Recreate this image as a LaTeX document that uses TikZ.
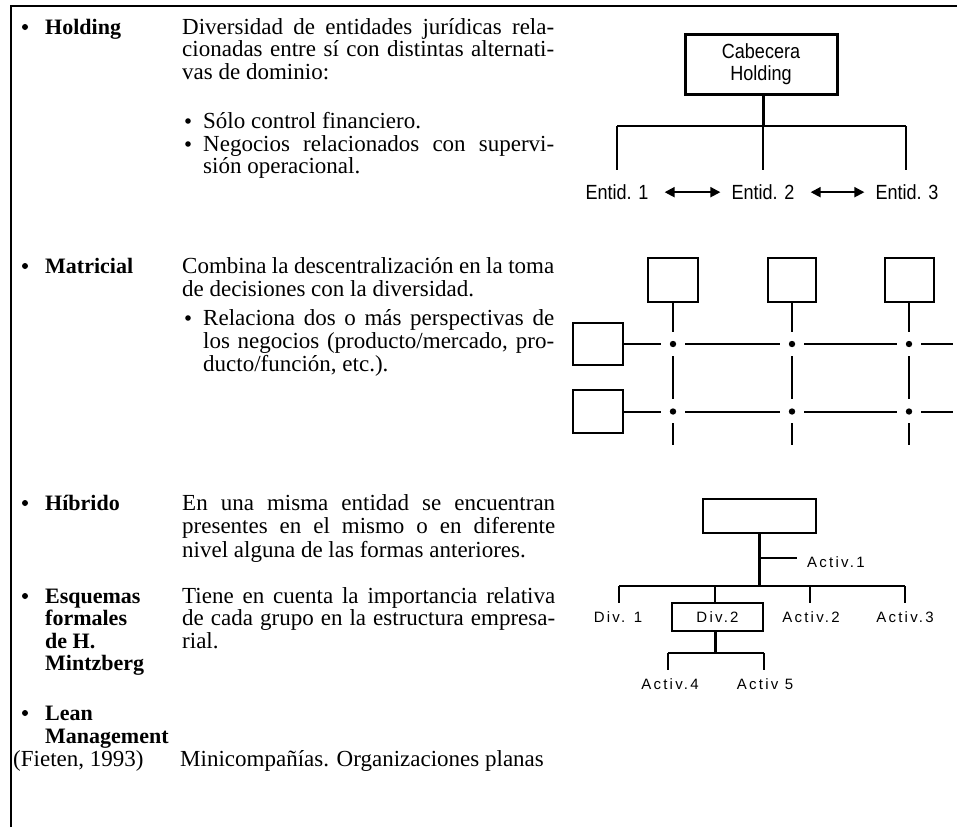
\documentclass[tikz,border=0pt]{standalone}
\usepackage{fontspec}
\setmainfont{Liberation Serif}
\setsansfont{Liberation Sans}
\newfontfamily\spacedsans[LetterSpace=15]{Liberation Sans}
\newfontfamily\condsans[FakeStretch=0.88]{Liberation Sans}
\usetikzlibrary{arrows.meta}
\begin{document}
\begin{tikzpicture}[x=1pt,y=-1pt,
  body/.style={anchor=base west, inner sep=0pt, font=\fontsize{23}{27}\selectfont},
  lab/.style={anchor=base west, inner sep=0pt, font=\fontsize{22}{26}\selectfont\bfseries},
  sanslab/.style={font=\fontsize{20.5}{22}\selectfont\condsans, inner sep=1pt},
  smalllab/.style={font=\fontsize{15}{17}\selectfont\spacedsans, inner sep=1pt},
  bul/.style={fill=black},
  frame/.style={line width=1.6pt},
  thickbox/.style={draw, line width=3pt, inner sep=0pt},
  mbox/.style={draw, line width=2pt, inner sep=0pt},
  ln/.style={line width=2pt},
  tln/.style={line width=3pt},
  harrow/.style={line width=2pt, {Triangle[length=10pt,width=10pt]}-{Triangle[length=10pt,width=10pt]}},
]
\useasboundingbox (0,0) rectangle (957,827);
% frame
\coordinate (fbl) at (11,827);
\coordinate (ftl) at (11,6);
\coordinate (ftr) at (957,6);
\draw[frame] (fbl) -- (ftl) -- (ftr);

% ---------- Holding
\fill[bul] (25,27) circle (3pt);
\node[lab] (tHolding) at (45,34) {Holding};
\node[body] (h1) at (182,34) {\makebox[372pt][s]{Diversidad de entidades jurídicas rela-}};
\node[body] (h2) at (182,56.5) {\makebox[372pt][s]{cionadas entre sí con distintas alternati-}};
\node[body] (h3) at (182,79) {vas de dominio:};
\fill[bul] (188,121) circle (2.8pt);
\node[body] (h4) at (203,128) {Sólo control financiero.};
\fill[bul] (188,144) circle (2.8pt);
\node[body] (h5) at (203,151) {\makebox[351pt][s]{Negocios relacionados con supervi-}};
\node[body] (h6) at (203,173.5) {sión operacional.};

% ---------- Matricial
\fill[bul] (25,266) circle (3pt);
\node[lab] (tMatricial) at (45,273) {Matricial};
\node[body] (m1t) at (182,273) {\makebox[372pt][s]{Combina la descentralización en la toma}};
\node[body] (m2t) at (182,296) {de decisiones con la diversidad.};
\fill[bul] (188,318) circle (2.8pt);
\node[body] (m3t) at (203,325) {\makebox[351pt][s]{Relaciona dos o más perspectivas de}};
\node[body] (m4t) at (203,348.5) {\makebox[351pt][s]{los negocios (producto/mercado, pro-}};
\node[body] (m5t) at (203,371) {ducto/función, etc.).};

% ---------- Hibrido
\fill[bul] (25,503) circle (3pt);
\node[lab] (tHibrido) at (45,510) {Híbrido};
\node[body] (b1t) at (182,510) {\makebox[373pt][s]{En una misma entidad se encuentran}};
\node[body] (b2t) at (182,533.5) {\makebox[373pt][s]{presentes en el mismo o en diferente}};
\node[body] (b3t) at (182,557) {nivel alguna de las formas anteriores.};

% ---------- Esquemas
\fill[bul] (25,596) circle (3pt);
\node[lab] (tEsq1) at (45,603) {Esquemas};
\node[lab] (tEsq2) at (45,625.5) {formales};
\node[lab] (tEsq3) at (45,648) {de H.};
\node[lab] (tEsq4) at (45,670.5) {Mintzberg};
\node[body] (e1t) at (182,603) {\makebox[373pt][s]{Tiene en cuenta la importancia relativa}};
\node[body] (e2t) at (182,625.5) {\makebox[373pt][s]{de cada grupo en la estructura empresa-}};
\node[body] (e3t) at (182,648) {rial.};

% ---------- Lean
\fill[bul] (25,713) circle (3pt);
\node[lab] (tLean1) at (45,720) {Lean};
\node[lab] (tLean2) at (45,743) {Management};
\node[body] (lf) at (13,766) {(Fieten, 1993)};
\node[body] (lt) at (180,766) {Minicompañías. Organizaciones planas};

% ================= Holding diagram
\node[thickbox, minimum width=152pt, minimum height=60pt] (cab) at (761,64) {};
\node[sanslab, align=center] (cabt) at (cab.center) {Cabecera\\Holding};
\coordinate (hj) at (763,126);
\coordinate (hl) at (617,126);
\coordinate (hr) at (906,126);
\coordinate (hl2) at (617,170);
\coordinate (hm2) at (763,170);
\coordinate (hr2) at (906,170);
\draw[tln] (cab.south -| hj) -- (hj);
\draw[line width=2.5pt] (hl) -- (hr);
\draw[ln] (hl) -- (hl2);
\draw[ln] (hj) -- (hm2);
\draw[ln] (hr) -- (hr2);
\node[sanslab, anchor=base] (ent1) at (617,199) {Entid. 1};
\node[sanslab, anchor=base] (ent2) at (763,199) {Entid. 2};
\node[sanslab, anchor=base] (ent3) at (907,199) {Entid. 3};
\draw[harrow] ([xshift=15pt,yshift=-0.5pt]ent1.east) -- ([xshift=-10pt,yshift=-0.5pt]ent2.west);
\draw[harrow] ([xshift=15pt,yshift=-0.5pt]ent2.east) -- ([xshift=-10pt,yshift=-0.5pt]ent3.west);

% ================= Matricial diagram
\node[mbox, minimum width=50pt, minimum height=44pt] (mb1) at (673,280) {};
\node[mbox, minimum width=48pt, minimum height=44pt] (mb2) at (792,280) {};
\node[mbox, minimum width=49pt, minimum height=44pt] (mb3) at (909,280) {};
\node[mbox, minimum width=50pt, minimum height=42pt] (rb1) at (598,344) {};
\node[mbox, minimum width=50pt, minimum height=43pt] (rb2) at (598,411.5) {};
\foreach \c/\x in {1/673,2/792,3/909}{
  \coordinate (v\c a) at (\x,332);
  \coordinate (v\c b) at (\x,356);
  \coordinate (v\c c) at (\x,399);
  \coordinate (v\c d) at (\x,423);
  \coordinate (v\c e) at (\x,445);
  \draw[ln] (mb\c.south) -- (v\c a);
  \draw[ln] (v\c b) -- (v\c c);
  \draw[ln] (v\c d) -- (v\c e);
  \fill (\x,344) circle (3.2pt);
  \fill (\x,411.5) circle (3.2pt);
}
\foreach \r/\y in {1/344,2/411.5}{
  \coordinate (h\r a) at (661,\y);
  \coordinate (h\r b) at (685,\y);
  \coordinate (h\r c) at (780,\y);
  \coordinate (h\r d) at (804,\y);
  \coordinate (h\r e) at (897,\y);
  \coordinate (h\r f) at (921,\y);
  \coordinate (h\r g) at (953,\y);
  \draw[ln] (rb\r.east) -- (h\r a);
  \draw[ln] (h\r b) -- (h\r c);
  \draw[ln] (h\r d) -- (h\r e);
  \draw[ln] (h\r f) -- (h\r g);
}

% ================= Hybrid diagram
\node[mbox, minimum width=113pt, minimum height=34pt] (top) at (759.5,516) {};
\coordinate (tj) at (759.5,586);
\coordinate (ta) at (759.5,558);
\coordinate (ta2) at (797,558);
\draw[tln] (top.south) -- (tj);
\draw[ln] (ta) -- (ta2);
\node[smalllab, anchor=base west] (act1) at (806,567) {Activ.1};
\coordinate (bl) at (619,586);
\coordinate (br) at (905,586);
\draw[line width=2.5pt] (bl) -- (br);
\node[mbox, smalllab, minimum width=91pt, minimum height=28pt] (div2) at (717.5,617) {Div.2};
\node[smalllab] (div1) at (618,617) {Div. 1};
\node[smalllab] (act2) at (811,617) {Activ.2};
\node[smalllab] (act3) at (905,617) {Activ.3};
\coordinate (d1t) at (619,603);
\coordinate (d2j) at (715,586);
\coordinate (a2j) at (810,586);
\coordinate (a2t) at (810,603);
\coordinate (a3t) at (905,603);
\draw[ln] (bl) -- (d1t);
\draw[ln] (d2j) -- (div2.north -| d2j);
\draw[ln] (a2j) -- (a2t);
\draw[ln] (br) -- (a3t);
\coordinate (sj) at (715,653);
\coordinate (sl) at (668,653);
\coordinate (sr) at (764,653);
\coordinate (sl2) at (668,670);
\coordinate (sr2) at (764,670);
\draw[tln] (div2.south -| sj) -- (sj);
\draw[line width=2.5pt] (sl) -- (sr);
\draw[ln] (sl) -- (sl2);
\draw[ln] (sr) -- (sr2);
\node[smalllab] (act4) at (670,684) {Activ.4};
\node[smalllab] (act5) at (765,684) {Activ 5};
\end{tikzpicture}
\end{document}
